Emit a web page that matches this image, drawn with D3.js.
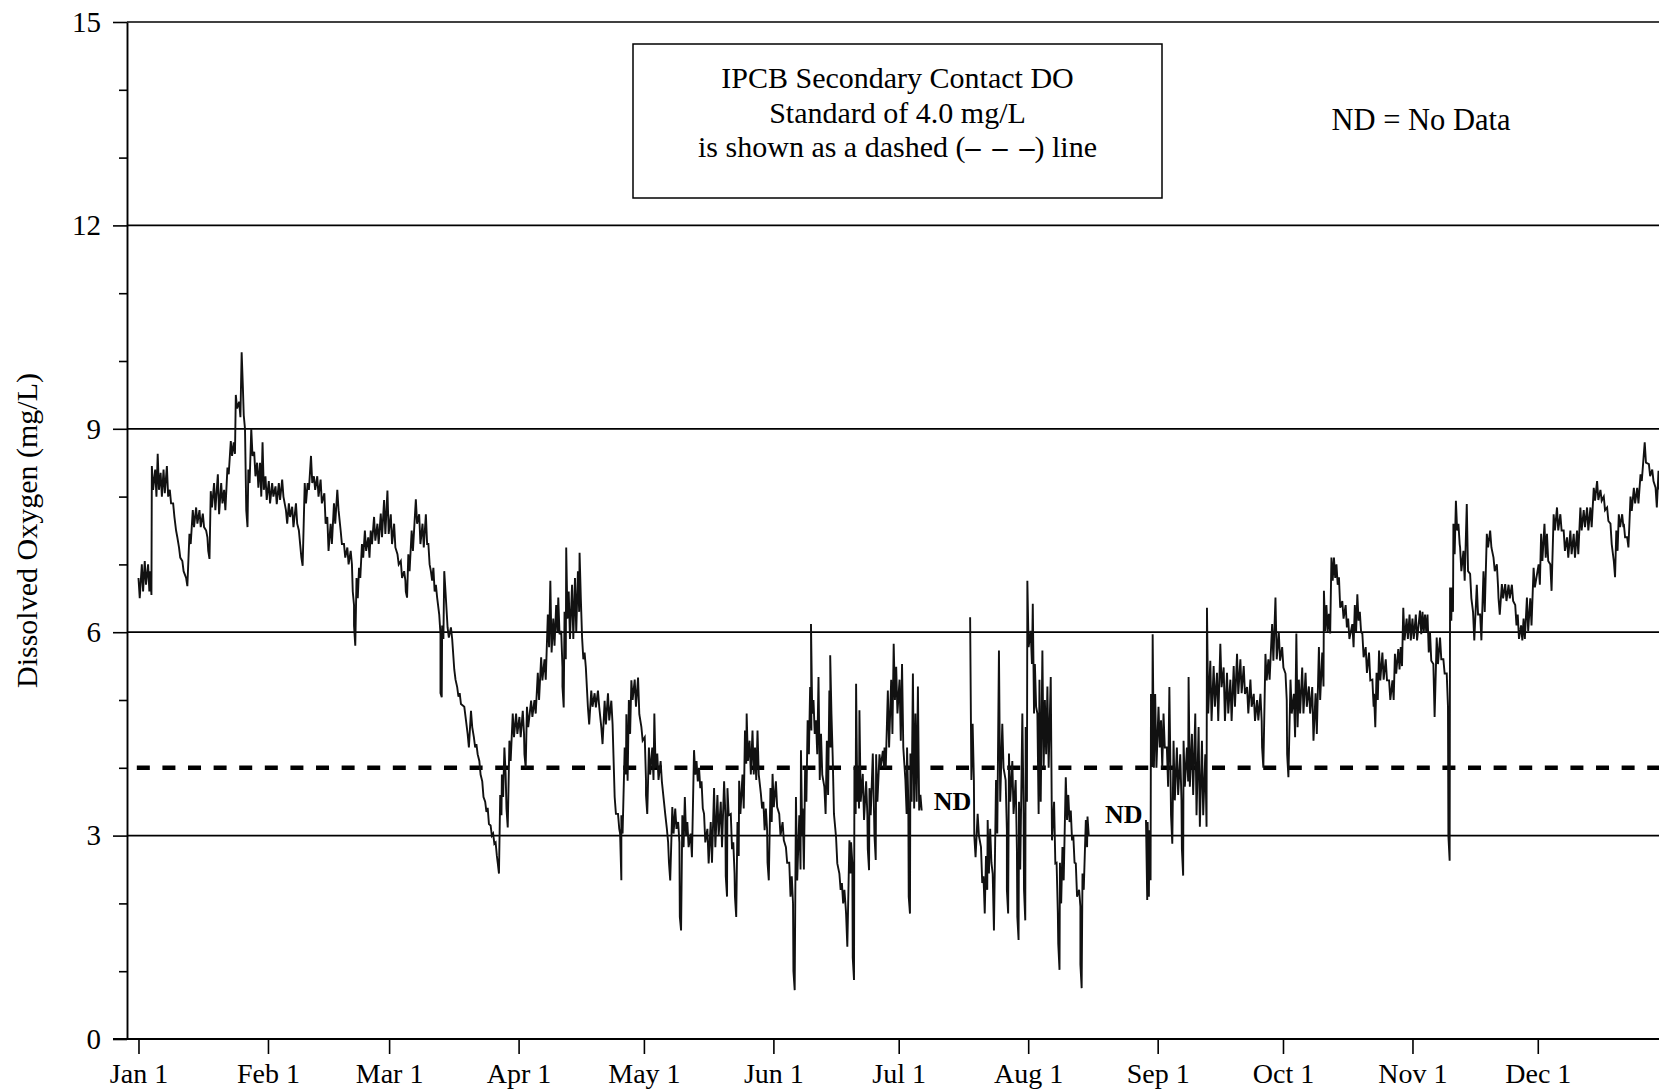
<!DOCTYPE html>
<html>
<head>
<meta charset="utf-8">
<script src="https://cdn.jsdelivr.net/npm/d3@7"></script>
<style>
  body { margin: 0; background: #fff; }
  svg { display: block; }
  text { font-family: "Liberation Serif", "Times New Roman", serif; fill: #000; }
</style>
</head>
<body>
<svg id="chart" width="1659" height="1091"></svg>
<script>
// Month-start tick positions (day of a leap year, Jan 1 = 0) and their labels
const monthLabels = ["Jan 1", "Feb 1", "Mar 1", "Apr 1", "May 1", "Jun 1",
                     "Jul 1", "Aug 1", "Sep 1", "Oct 1", "Nov 1", "Dec 1"];
const monthStartDays = [0, 31, 60, 91, 121, 152, 182, 213, 244, 274, 305, 335];
const yMajorTicks = [0, 3, 6, 9, 12, 15];
const yMinorTicks = [1, 2, 4, 5, 7, 8, 10, 11, 13, 14];
const standardDO = 4.0;

// Continuous DO record, summarised as [day, low, high] for each reading window (mg/L)
const janFeb = [
  [0, 6.5, 6.8], [0.8, 6.6, 7.0], [1.5, 6.7, 7.05], [2.3, 6.6, 7.0], [2.8, 6.55, 6.9],
  [3.2, 8.1, 8.45], [4.0, 8.0, 8.4], [4.6, 8.1, 8.63], [5.3, 8.0, 8.35], [6.0, 8.05, 8.4],
  [6.8, 8.0, 8.45], [7.5, 7.9, 8.1], [8.3, 7.7, 7.9], [9.0, 7.4, 7.5], [9.7, 7.1, 7.25],
  [10.5, 6.9, 7.05], [11.4, 6.68, 6.8], [12.2, 7.3, 7.45], [13.0, 7.55, 7.8], [13.8, 7.6, 7.84],
  [14.6, 7.55, 7.8], [15.4, 7.55, 7.75], [16.2, 7.4, 7.5], [16.7, 7.08, 7.2], [17.3, 7.84, 8.08],
  [18.1, 7.8, 8.2], [19.0, 7.74, 8.33], [19.8, 7.9, 8.2], [20.5, 7.8, 8.1], [21.3, 8.33, 8.43],
  [22.1, 8.6, 8.82], [22.8, 8.63, 8.8], [23.3, 9.3, 9.5], [24.1, 9.17, 9.4], [24.7, 9.6, 10.13],
  [25.2, 9.0, 9.2], [25.8, 7.55, 7.8], [26.3, 8.2, 8.4], [27.0, 8.6, 9.0], [27.7, 8.3, 8.66],
  [28.4, 8.13, 8.5], [29.1, 8.0, 8.5], [29.7, 8.1, 8.8], [30.4, 7.95, 8.3],
  [31.2, 7.9, 8.23], [32.0, 8.0, 8.2], [32.8, 7.89, 8.15], [33.6, 7.95, 8.2], [34.4, 8.0, 8.25],
  [35.3, 7.6, 7.8], [36.0, 7.7, 7.9], [36.8, 7.55, 7.85], [37.7, 7.6, 7.9], [38.4, 7.3, 7.5],
  [39.0, 6.98, 7.1], [39.8, 7.9, 8.2], [40.5, 8.1, 8.2], [41.3, 8.2, 8.6], [42.0, 8.1, 8.3],
  [42.8, 8.0, 8.3], [43.6, 7.9, 8.25], [44.5, 7.6, 8.05], [45.2, 7.2, 7.7], [46.0, 7.3, 7.6],
  [46.8, 7.6, 7.9], [47.6, 7.8, 8.1], [48.4, 7.3, 7.5], [49.2, 7.1, 7.3], [50.0, 7.0, 7.25],
  [50.8, 7.0, 7.2], [51.3, 6.4, 6.6], [51.6, 5.8, 6.1], [52.2, 6.5, 6.8], [52.8, 6.8, 6.95],
  [53.5, 7.1, 7.3], [54.2, 7.2, 7.5], [55.0, 7.1, 7.4], [55.6, 7.3, 7.5], [56.4, 7.35, 7.7],
  [57.2, 7.3, 7.6], [58.0, 7.4, 7.75], [58.8, 7.45, 7.95], [59.6, 7.45, 8.09]
];

const marApr = [
  [60.4, 7.3, 7.74], [61.2, 7.25, 7.6], [62.0, 7.0, 7.15], [62.8, 6.8, 7.05], [63.6, 6.76, 6.9],
  [64.0, 6.51, 6.6], [64.6, 6.9, 7.15], [65.4, 7.2, 7.5], [66.4, 7.6, 7.96], [67.2, 7.3, 7.74],
  [68.0, 7.25, 7.6], [68.8, 7.3, 7.74], [69.4, 7.0, 7.3], [70.0, 6.76, 6.9], [70.6, 6.6, 6.95],
  [71.2, 6.51, 6.7], [72.0, 5.97, 6.26], [72.3, 5.04, 5.1], [72.7, 5.9, 6.1], [73.2, 6.6, 6.9],
  [74.0, 5.92, 6.07], [74.8, 5.9, 6.07], [75.6, 5.3, 5.45], [76.3, 5.05, 5.19], [76.9, 4.94, 5.1],
  [78.0, 4.75, 4.9], [78.8, 4.3, 4.5], [79.6, 4.6, 4.84], [80.3, 4.3, 4.45], [80.9, 4.2, 4.35],
  [81.6, 3.9, 4.1], [82.3, 3.57, 3.8], [83.0, 3.35, 3.5], [83.6, 3.17, 3.41], [84.3, 3.0, 3.15],
  [84.9, 2.88, 3.03], [85.5, 2.7, 2.9], [86.0, 2.44, 2.6], [86.6, 3.3, 3.6], [87.0, 3.57, 3.9],
  [87.6, 3.9, 4.3], [88.1, 3.12, 3.4], [88.8, 4.1, 4.4], [89.6, 4.45, 4.8], [90.4, 4.5, 4.8],
  [91.2, 4.45, 4.75], [92.0, 4.5, 4.84], [92.4, 4.0, 4.2], [93.0, 4.6, 4.9], [94.0, 4.75, 4.99],
  [94.8, 4.8, 5.0], [95.6, 5.0, 5.4], [96.4, 5.29, 5.63], [97.2, 5.3, 5.6], [98.0, 5.78, 6.26],
  [98.6, 5.7, 6.76], [99.3, 5.8, 6.2], [100.0, 6.0, 6.4], [100.5, 5.97, 6.51], [101.2, 5.48, 6.02],
  [101.5, 4.89, 5.2], [102.0, 5.6, 6.3], [102.4, 6.2, 7.25], [103.0, 5.9, 6.6], [103.8, 5.9, 6.7],
  [104.5, 6.0, 6.8], [105.2, 6.3, 6.9], [105.6, 6.5, 7.17], [106.2, 5.6, 5.92], [106.8, 5.48, 5.7],
  [107.6, 4.64, 4.89], [108.4, 4.9, 5.14], [109.2, 4.89, 5.1], [110.0, 4.9, 5.14], [110.8, 4.35, 4.6],
  [111.6, 4.64, 4.99], [112.4, 4.7, 5.1], [113.2, 4.64, 4.99], [114.0, 3.32, 3.57], [114.8, 3.1, 3.32],
  [115.3, 2.34, 3.03], [115.6, 3.03, 3.3], [116.4, 3.9, 4.3], [116.8, 3.81, 4.79], [117.4, 4.5, 5.0],
  [118.0, 5.0, 5.29], [118.8, 4.9, 5.3], [119.6, 4.79, 5.33], [120.4, 4.4, 4.6]
];

const mayJun = [
  [121.2, 3.82, 4.45], [121.5, 3.32, 3.6], [122.2, 3.9, 4.3], [123.0, 3.82, 4.3], [123.5, 4.0, 4.8],
  [124.2, 3.82, 4.21], [125.0, 3.8, 4.1], [125.8, 3.32, 3.5], [126.5, 2.9, 3.1], [127.0, 2.34, 2.6],
  [127.8, 3.03, 3.42], [128.5, 3.1, 3.4], [129.2, 2.9, 3.2], [129.6, 1.6, 1.8], [130.2, 2.83, 3.3],
  [130.8, 3.0, 3.57], [131.4, 2.83, 3.2], [132.2, 2.68, 3.03], [133.0, 3.9, 4.26], [133.6, 3.8, 4.1],
  [134.2, 3.7, 4.0], [134.8, 3.4, 3.8], [135.4, 2.9, 3.32], [136.2, 2.59, 3.1], [137.0, 2.6, 3.2],
  [137.8, 2.83, 3.7], [138.6, 3.0, 3.6], [139.4, 2.83, 3.5], [140.2, 3.32, 3.8], [140.6, 2.1, 2.4],
  [141.0, 3.3, 3.7], [141.8, 2.8, 3.32], [142.4, 2.44, 2.9], [142.8, 1.8, 2.1], [143.4, 2.7, 3.2],
  [143.8, 3.32, 3.81], [144.6, 3.4, 3.9], [145.2, 4.06, 4.55], [145.6, 4.1, 4.8], [146.3, 3.9, 4.4],
  [147.0, 3.9, 4.55], [147.6, 3.82, 4.3], [148.2, 3.9, 4.55], [149.0, 3.4, 3.62], [149.6, 3.08, 3.5],
  [150.2, 3.08, 3.4], [150.6, 2.34, 2.6], [151.3, 3.2, 3.7],
  [151.8, 3.42, 3.91], [152.6, 3.42, 3.8], [153.4, 3.0, 3.32], [154.2, 2.93, 3.2], [155.0, 2.6, 2.83],
  [155.8, 2.1, 2.6], [156.4, 2.0, 2.4], [156.8, 0.72, 1.0], [157.4, 2.34, 3.57], [158.2, 2.5, 3.3],
  [158.6, 3.0, 4.26], [159.0, 2.5, 3.4], [159.6, 3.5, 4.0], [160.2, 4.2, 4.7], [160.8, 4.55, 5.19],
  [161.0, 4.8, 6.12], [161.6, 4.5, 5.0], [162.2, 4.2, 4.7], [162.8, 3.82, 5.34], [163.4, 3.9, 4.5],
  [164.2, 3.32, 3.72], [164.8, 3.6, 4.4], [165.4, 4.3, 5.14], [165.6, 4.8, 5.66], [166.2, 3.32, 4.16],
  [167.0, 2.59, 2.98], [167.8, 2.2, 2.44], [168.4, 2.0, 2.3], [169.0, 1.95, 2.2], [169.4, 1.36, 1.85],
  [170.2, 2.44, 2.93], [170.6, 2.6, 2.9], [171.0, 0.87, 1.2], [171.4, 3.32, 4.01], [171.8, 3.5, 5.24],
  [172.2, 3.4, 4.0], [172.6, 3.5, 4.85], [173.4, 3.23, 3.91], [174.2, 3.3, 3.8], [174.6, 2.49, 2.8],
  [175.0, 3.3, 3.7], [175.8, 3.32, 4.21], [176.2, 2.64, 3.0], [176.6, 3.5, 4.2], [177.4, 4.01, 4.2],
  [178.2, 4.0, 4.25], [178.6, 4.0, 4.3], [179.4, 4.3, 5.14], [180.2, 4.5, 5.3], [180.8, 5.0, 5.83],
  [181.4, 4.8, 5.49]
];

const julAug = [
  [182.2, 4.4, 5.3], [182.8, 4.3, 5.53], [183.6, 3.32, 3.82], [184.0, 3.5, 4.3], [184.4, 1.85, 2.1],
  [184.8, 3.5, 4.21], [185.4, 3.4, 5.39], [186.0, 3.5, 4.8], [186.6, 3.37, 5.2], [187.2, 3.37, 3.6],
  [199.1, 3.82, 6.22], [199.7, 3.82, 4.65], [200.1, 2.68, 3.0], [200.9, 3.0, 3.32], [201.7, 2.3, 2.83],
  [202.3, 1.85, 2.4], [202.9, 2.2, 2.7], [203.3, 2.44, 3.23], [203.9, 2.6, 3.1], [204.5, 1.6, 2.44],
  [205.3, 3.03, 3.82], [206.0, 3.5, 5.73], [206.8, 4.0, 4.65], [207.6, 3.08, 3.82], [207.9, 1.85, 2.2],
  [208.4, 3.5, 4.21], [209.2, 3.32, 4.1], [210.0, 2.8, 3.82], [210.4, 1.46, 1.8], [210.8, 2.5, 3.5],
  [211.6, 3.32, 4.8], [212.0, 1.75, 2.2], [212.4, 3.5, 4.6],
  [212.8, 5.78, 6.76], [213.6, 5.53, 6.02], [214.1, 4.8, 6.42], [214.6, 4.9, 5.53], [215.2, 3.32, 4.8],
  [215.7, 3.5, 5.3], [216.4, 4.0, 5.73], [217.0, 4.2, 5.0], [217.6, 4.0, 5.2], [218.4, 2.93, 5.34],
  [219.2, 2.59, 3.5], [219.8, 1.85, 2.6], [220.2, 1.02, 1.4], [220.6, 2.0, 2.6], [221.2, 2.34, 2.83],
  [222.0, 3.23, 3.86], [222.6, 3.2, 3.6], [223.2, 2.93, 3.37], [223.8, 2.6, 3.0], [224.4, 2.1, 2.59],
  [225.2, 1.95, 2.2], [225.5, 0.75, 1.1], [226.0, 2.2, 2.44], [226.8, 2.83, 3.23], [227.2, 3.0, 3.28],
  [241.2, 2.05, 3.23], [241.6, 2.1, 3.2], [242.0, 2.34, 3.08], [242.4, 4.01, 5.09], [242.8, 4.0, 5.97],
  [243.4, 4.0, 5.09]
];

const sepOct = [
  [244.2, 4.3, 4.9], [244.8, 4.0, 4.7], [245.4, 4.3, 4.8], [246.2, 3.72, 4.3], [246.8, 3.8, 5.19],
  [247.2, 2.88, 3.3], [247.8, 3.52, 4.4], [248.6, 3.6, 4.3], [249.4, 3.52, 4.2], [249.8, 2.41, 2.8],
  [250.2, 3.72, 4.4], [251.0, 3.8, 4.3], [251.4, 3.72, 5.34], [252.2, 3.6, 4.5], [253.0, 3.3, 4.8],
  [253.8, 3.13, 4.6], [254.6, 3.3, 4.4], [255.4, 3.13, 4.2], [255.8, 4.8, 6.36], [256.6, 4.69, 5.58],
  [257.4, 4.9, 5.5], [258.2, 4.69, 5.4], [259.0, 5.19, 5.83], [259.8, 4.69, 5.48], [260.6, 4.8, 5.4],
  [261.4, 4.69, 5.3], [262.2, 4.9, 5.5], [263.0, 5.09, 5.68], [263.8, 5.1, 5.6], [264.6, 5.09, 5.5],
  [265.4, 4.8, 5.19], [266.2, 4.9, 5.3], [267.0, 4.69, 5.09], [267.8, 4.7, 5.0], [268.6, 4.69, 5.09],
  [269.0, 4.0, 4.3], [269.8, 5.29, 5.68], [270.5, 5.3, 5.6], [271.4, 5.58, 6.12], [272.2, 5.6, 6.51],
  [273.0, 5.58, 6.0], [273.8, 5.48, 5.78],
  [274.6, 5.0, 5.39], [275.0, 3.86, 4.2], [275.8, 4.8, 5.3], [276.6, 4.45, 5.09], [277.2, 4.6, 5.98],
  [277.8, 4.8, 5.3], [278.6, 4.8, 5.48], [279.4, 4.9, 5.4], [280.2, 4.8, 5.2], [281.0, 4.4, 5.19],
  [281.8, 4.5, 5.1], [282.6, 5.0, 5.78], [283.4, 5.2, 5.7], [283.8, 6.02, 6.61], [284.4, 6.0, 6.4],
  [285.0, 5.98, 6.27], [285.6, 6.76, 7.1], [286.2, 6.8, 7.1], [286.8, 6.7, 7.0], [287.4, 6.36, 6.81],
  [288.2, 6.2, 6.46], [289.0, 6.07, 6.4], [289.6, 5.9, 6.2], [290.6, 5.78, 6.12], [291.2, 6.0, 6.4],
  [291.8, 6.17, 6.56], [292.4, 6.0, 6.3], [293.0, 5.63, 5.98], [293.8, 5.4, 5.78], [294.6, 5.29, 5.7],
  [295.4, 4.9, 5.3], [295.8, 4.6, 5.09], [296.4, 5.0, 5.4], [297.0, 5.29, 5.73], [297.8, 5.3, 5.7],
  [298.6, 5.29, 5.6], [299.4, 5.0, 5.29], [300.2, 5.0, 5.29], [300.8, 5.39, 5.68], [301.6, 5.45, 5.75],
  [302.2, 5.5, 5.78], [302.8, 5.88, 6.36], [303.6, 5.9, 6.2], [304.3, 5.88, 6.26]
];

const novDec = [
  [305.0, 5.9, 6.2], [305.8, 5.88, 6.26], [306.8, 5.97, 6.32], [307.4, 6.0, 6.3], [308.0, 6.0, 6.26],
  [308.6, 5.7, 6.26], [309.2, 5.58, 6.0], [310.0, 4.75, 5.53], [310.8, 5.53, 5.92], [311.6, 5.6, 5.92],
  [312.4, 5.39, 5.6], [313.2, 4.9, 5.39], [313.6, 2.63, 3.0], [314.0, 6.17, 6.66], [314.4, 6.3, 6.66],
  [314.8, 7.15, 7.6], [315.4, 7.5, 7.94], [316.0, 7.3, 7.6], [316.4, 6.9, 7.25], [317.2, 6.76, 7.2],
  [318.0, 6.9, 7.89], [318.8, 6.5, 6.86], [319.5, 5.88, 6.3], [320.4, 6.26, 6.7], [321.2, 5.88, 6.26],
  [322.0, 6.3, 6.9], [322.8, 7.25, 7.45], [323.6, 7.25, 7.5], [324.4, 6.9, 7.1], [325.2, 6.66, 7.0],
  [325.6, 6.26, 6.5], [326.4, 6.5, 6.71], [327.2, 6.46, 6.71], [328.0, 6.5, 6.7], [328.8, 6.46, 6.7],
  [329.6, 6.1, 6.4], [330.2, 5.9, 6.26], [331.0, 5.88, 6.1], [331.6, 5.9, 6.2], [332.4, 6.02, 6.51],
  [333.2, 6.1, 6.5], [334.0, 6.66, 6.95],
  [335.2, 6.7, 7.0], [335.8, 7.05, 7.45], [336.6, 7.1, 7.6], [337.2, 7.05, 7.45], [338.0, 6.61, 7.0],
  [338.8, 7.5, 7.74], [339.6, 7.5, 7.84], [340.4, 7.5, 7.74], [341.2, 7.2, 7.5], [342.0, 7.1, 7.4],
  [342.8, 7.15, 7.5], [343.6, 7.1, 7.45], [344.4, 7.15, 7.5], [345.2, 7.5, 7.84], [346.0, 7.55, 7.8],
  [346.8, 7.5, 7.84], [347.6, 7.55, 7.84], [348.4, 7.94, 8.13], [349.2, 7.95, 8.23], [350.0, 7.94, 8.1],
  [350.8, 7.8, 8.0], [351.6, 7.64, 7.84], [352.4, 7.3, 7.6], [353.2, 6.81, 7.05], [353.8, 7.2, 7.5],
  [354.4, 7.55, 7.74], [355.2, 7.55, 7.74], [355.6, 7.4, 7.6], [356.4, 7.25, 7.4], [357.2, 7.79, 8.0],
  [358.0, 7.9, 8.13], [358.8, 7.9, 8.13], [359.6, 8.23, 8.33], [360.6, 8.5, 8.8], [361.6, 8.3, 8.48],
  [362.4, 8.23, 8.4], [363.2, 7.84, 8.13], [363.9, 8.1, 8.38]
];

// "ND" markers placed inside the two data gaps: [day, mg/L]
const noDataMarks = [[194.9, 3.38], [235.9, 3.19]];

const legendLines = ["IPCB Secondary Contact DO", "Standard of 4.0 mg/L"];

// ---------------------------------------------------------------------------
const svg = d3.select("#chart");
const W = 1659;

const x = d3.scaleLinear().domain([-2.75, 366.5]).range([127, 127 + 369.25 * 4.177]);
const y = d3.scaleLinear().domain([0, 15]).range([1039, 22]);

const g = svg.append("g");

// horizontal grid lines at the labelled values
g.append("g").selectAll("line")
  .data(yMajorTicks.filter(v => v > 0))
  .join("line")
  .attr("x1", x.range()[0]).attr("x2", W)
  .attr("y1", d => y(d)).attr("y2", d => y(d))
  .attr("stroke", "#000").attr("stroke-width", 1.7);

// y axis: minor then major ticks
const yMinor = g.append("g").attr("transform", `translate(${x.range()[0]},0)`)
  .call(d3.axisLeft(y).tickValues(yMinorTicks).tickSize(8).tickFormat(""));
const yMajor = g.append("g").attr("transform", `translate(${x.range()[0]},0)`)
  .call(d3.axisLeft(y).tickValues(yMajorTicks).tickSize(14).tickPadding(12).tickSizeOuter(0));
[yMinor, yMajor].forEach(a => {
  a.selectAll("line").attr("stroke", "#000").attr("stroke-width", 1.6);
  a.select(".domain").attr("stroke", "#000").attr("stroke-width", 1.9);
});
yMinor.select(".domain").remove();
yMajor.selectAll("text").attr("font-size", 29).style("font-family", "'Liberation Serif', serif");

// x axis with month-start ticks
const xAxis = g.append("g").attr("transform", `translate(0,${y(0)})`)
  .call(d3.axisBottom(x).tickValues(monthStartDays)
    .tickFormat((d, i) => monthLabels[i]).tickSize(15).tickPadding(9).tickSizeOuter(0));
xAxis.select(".domain").attr("d", `M${x.range()[0] - 14},0H${W}`).attr("stroke", "#000").attr("stroke-width", 1.9);
xAxis.selectAll("line").attr("stroke", "#000").attr("stroke-width", 1.6);
xAxis.selectAll("text").attr("font-size", 28).style("font-family", "'Liberation Serif', serif");

// y axis title
g.append("text")
  .attr("transform", `translate(37,${y(7.5)}) rotate(-90)`)
  .attr("text-anchor", "middle")
  .attr("font-size", 30)
  .text("Dissolved Oxygen (mg/L)");

// 4.0 mg/L standard as a heavy dashed line
g.append("line")
  .attr("x1", x(-0.4)).attr("x2", W)
  .attr("y1", y(standardDO)).attr("y2", y(standardDO))
  .attr("stroke", "#000").attr("stroke-width", 4.5)
  .attr("stroke-dasharray", "13,12.6");

// DO record: split into runs at the no-data gaps and drawn as a low/high zigzag
const records = [...janFeb, ...marApr, ...mayJun, ...julAug, ...sepOct, ...novDec];
const runs = [];
records.forEach((r, i) => {
  if (i === 0 || r[0] - records[i - 1][0] > 5) runs.push([]);
  runs[runs.length - 1].push(r);
});
const line = d3.line().x(p => x(p[0])).y(p => y(p[1]));
g.append("g").selectAll("path")
  .data(runs)
  .join("path")
  .attr("d", run => line(run.flatMap(([d, lo, hi]) => [[d, hi], [d + 0.3, lo]])))
  .attr("fill", "none")
  .attr("stroke", "#111")
  .attr("stroke-width", 1.9)
  .attr("stroke-linejoin", "miter");

// "ND" labels
g.append("g").selectAll("text")
  .data(noDataMarks)
  .join("text")
  .attr("x", d => x(d[0])).attr("y", d => y(d[1]))
  .attr("text-anchor", "middle")
  .attr("font-size", 26).attr("font-weight", "bold")
  .text("ND");

// legend box describing the standard
const boxX = 633, boxY = 44, boxW = 529, boxH = 154;
g.append("rect")
  .attr("x", boxX).attr("y", boxY).attr("width", boxW).attr("height", boxH)
  .attr("fill", "#fff").attr("stroke", "#000").attr("stroke-width", 1.5);
const cx = boxX + boxW / 2;
legendLines.forEach((t, i) => {
  g.append("text").attr("x", cx).attr("y", 88 + i * 34.5)
    .attr("text-anchor", "middle").attr("font-size", 30).text(t);
});
const l3 = g.append("text").attr("x", cx).attr("y", 88 + 2 * 34.5)
  .attr("text-anchor", "middle").attr("font-size", 30);
l3.append("tspan").text("is shown as a dashed (");
l3.append("tspan").attr("font-weight", "bold").text("\u2013");
l3.append("tspan").attr("dx", 12).attr("font-weight", "bold").text("\u2013");
l3.append("tspan").attr("dx", 12).attr("font-weight", "bold").text("\u2013");
l3.append("tspan").text(") line");

g.append("text").attr("x", 1421).attr("y", 130)
  .attr("text-anchor", "middle").attr("font-size", 30.5).text("ND = No Data");
</script>
</body>
</html>
